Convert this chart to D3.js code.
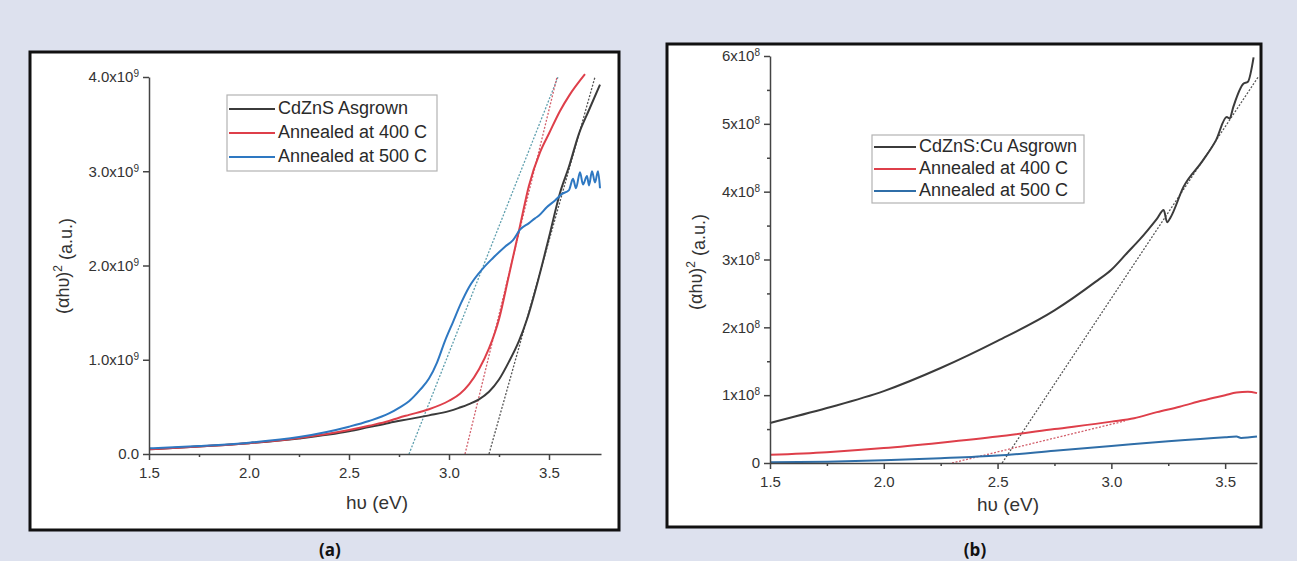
<!DOCTYPE html>
<html>
<head>
<meta charset="utf-8">
<script src="https://cdn.jsdelivr.net/npm/d3@7"></script>
<style>
  html, body { margin: 0; padding: 0; background: #dde1ee; }
  svg { display: block; font-family: 'Liberation Sans', Arial, sans-serif; }
</style>
</head>
<body>
<svg id="chart" width="1297" height="561"></svg>
<script>
// ============================================================================
//  Tauc plots (αhυ)² vs hυ — (a) CdZnS, (b) CdZnS:Cu
// ============================================================================

// ---- panel (a): hυ (eV), (αhυ)² in units of 1e9 ----
const asgrownA = [[1.5,0.05],[1.75,0.08],[2.0,0.115],[2.25,0.165],[2.5,0.24],[2.6,0.285],[2.7,0.33],
  [2.8,0.37],[2.9,0.41],[3.0,0.455],[3.05,0.49],[3.1,0.53],[3.15,0.58],[3.2,0.66],[3.25,0.79],[3.3,0.98],
  [3.35,1.2],[3.39,1.43],[3.45,1.88],[3.5,2.3],[3.555,2.77],[3.6,3.05],[3.65,3.4],[3.7,3.65],[3.755,3.92]];
const anneal400A = [[1.5,0.05],[1.75,0.08],[2.0,0.115],[2.25,0.17],[2.5,0.255],[2.6,0.3],[2.7,0.35],
  [2.75,0.385],[2.8,0.415],[2.9,0.475],[3.0,0.565],[3.055,0.64],[3.1,0.74],[3.15,0.9],[3.2,1.12],[3.25,1.43],
  [3.3,1.9],[3.355,2.42],[3.4,2.85],[3.455,3.2],[3.5,3.4],[3.555,3.64],[3.6,3.8],[3.68,4.03]];
const anneal500A = [[1.5,0.06],[1.75,0.085],[2.0,0.12],[2.25,0.18],[2.5,0.29],[2.6,0.35],[2.7,0.43],
  [2.75,0.49],[2.8,0.56],[2.855,0.68],[2.9,0.8],[2.94,0.97],[2.98,1.2],[3.02,1.4],[3.06,1.6],[3.1,1.77],
  [3.17,1.97],[3.22,2.08],[3.28,2.2],[3.32,2.27],[3.355,2.38],[3.4,2.45],[3.43,2.5],[3.45,2.53],[3.49,2.62],
  [3.53,2.69],[3.565,2.76],[3.6,2.8],[3.62,2.92],[3.635,2.82],[3.655,2.99],[3.67,2.86],[3.69,2.95],
  [3.7,2.85],[3.715,3.0],[3.73,2.88],[3.745,3.0],[3.755,2.82]];
const tangentsA = [[[2.80,0],[3.545,4.0]], [[3.08,0],[3.54,4.0]], [[3.2,0],[3.73,4.0]]];

// ---- panel (b): (αhυ)² in units of 1e8 ----
const asgrownB = [[1.5,0.59],[1.75,0.81],[2.0,1.06],[2.25,1.4],[2.5,1.8],[2.75,2.25],[2.93,2.67],
  [3.0,2.85],[3.07,3.1],[3.126,3.3],[3.2,3.6],[3.23,3.73],[3.245,3.55],[3.26,3.62],[3.317,4.07],
  [3.4,4.45],[3.46,4.76],[3.507,5.1],[3.52,5.08],[3.536,5.25],[3.58,5.59],[3.6,5.62],[3.625,5.98]];
const anneal400B = [[1.5,0.12],[1.75,0.16],[2.0,0.22],[2.25,0.3],[2.5,0.39],[2.75,0.5],[3.0,0.61],
  [3.1,0.66],[3.2,0.75],[3.3,0.83],[3.4,0.92],[3.5,1.0],[3.55,1.04],[3.6,1.05],[3.64,1.03]];
const anneal500B = [[1.5,0.01],[1.75,0.02],[2.0,0.04],[2.25,0.07],[2.5,0.11],[2.75,0.18],[3.0,0.25],
  [3.25,0.32],[3.5,0.38],[3.55,0.39],[3.57,0.37],[3.64,0.39]];
const tangentsB = [[[2.52,0],[3.645,5.69]], [[2.3,0],[3.06,0.62]]];

const legendA = ['CdZnS Asgrown', 'Annealed at 400 C', 'Annealed at 500 C'];
const legendB = ['CdZnS:Cu Asgrown', 'Annealed at 400 C', 'Annealed at 500 C'];
const xTicks = [1.5, 2.0, 2.5, 3.0, 3.5];
const xMinor = [1.75, 2.25, 2.75, 3.25];
const yTicksA = [0, 1, 2, 3, 4];
const yTicksB = [0, 1, 2, 3, 4, 5, 6];
const yMinorB = [0.5, 1.5, 2.5, 3.5, 4.5, 5.5];

const COL = { black: '#3b3b3b', red: '#de3f4a', blue: '#2e78c2', blueB: '#2f6ea8' };

const svg = d3.select('#chart');
svg.append('rect').attr('width', 1297).attr('height', 561).attr('fill', '#dde1ee');

function supLabel(sel, base, sup, supSize) {
  sel.text(null);
  sel.append('tspan').text(base);
  if (sup) sel.append('tspan').attr('dy', '-0.5em').style('font-size', supSize + 'px').text(sup);
}

function drawPanel(p) {
  const g = svg.append('g');
  g.append('rect').attr('x', p.frame[0]).attr('y', p.frame[1])
    .attr('width', p.frame[2]).attr('height', p.frame[3])
    .attr('fill', '#fff').attr('stroke', '#111').attr('stroke-width', 3);

  const x = d3.scaleLinear(p.xDomain, p.xRange);
  const y = d3.scaleLinear(p.yDomain, p.yRange);

  // tangents (dotted)
  p.tangents.forEach((t, i) => {
    g.append('path').datum(t).attr('fill', 'none').attr('stroke', p.tanColors[i])
      .attr('stroke-width', 1.3).attr('stroke-dasharray', '2,1.6')
      .attr('d', d3.line().x(d => x(d[0])).y(d => y(d[1])));
  });

  // curves
  const line = d3.line().x(d => x(d[0])).y(d => y(d[1])).curve(d3.curveMonotoneX);
  p.series.forEach(s => {
    g.append('path').datum(s.data).attr('fill', 'none').attr('stroke', s.color)
      .attr('stroke-width', 2).attr('stroke-linejoin', 'round').attr('d', line);
  });

  // axes
  const ax = g.append('g').attr('transform', `translate(0,${p.yRange[0]})`)
    .call(d3.axisBottom(x).tickValues(xTicks).tickSize(6).tickSizeOuter(0).tickPadding(7)
      .tickFormat(d3.format('.1f')));
  g.append('g').attr('transform', `translate(0,${p.yRange[0]})`)
    .call(d3.axisBottom(x).tickValues(xMinor).tickSize(3).tickFormat(''))
    .select('.domain').remove();
  const ay = g.append('g').attr('transform', `translate(${p.xRange[0]},0)`)
    .call(d3.axisLeft(y).tickValues(p.yTicks).tickSize(6).tickSizeOuter(0).tickPadding(4));
  if (p.yMinor) {
    g.append('g').attr('transform', `translate(${p.xRange[0]},0)`)
      .call(d3.axisLeft(y).tickValues(p.yMinor).tickSize(3).tickFormat(''))
      .select('.domain').remove();
  }
  g.selectAll('.domain, .tick line').attr('stroke', '#444').attr('stroke-width', 1.5);
  ax.selectAll('text').style('font-size', '15px').attr('fill', '#333');
  ay.selectAll('.tick text').style('font-size', '15px').attr('fill', '#333')
    .each(function (d) { supLabel(d3.select(this), p.yFmt(d), d === 0 ? null : p.exp, 10); });

  // axis titles
  g.append('text').attr('x', p.xTitle[0]).attr('y', p.xTitle[1]).attr('text-anchor', 'middle')
    .attr('dominant-baseline', 'middle').style('font-size', '19px').attr('fill', '#333').text('hυ (eV)');
  const yt = g.append('text').attr('transform', `translate(${p.yTitle[0]},${p.yTitle[1]}) rotate(-90)`)
    .attr('text-anchor', 'middle').attr('dominant-baseline', 'middle')
    .style('font-size', '18px').attr('fill', '#333');
  yt.append('tspan').text('(αhυ)');
  yt.append('tspan').attr('dy', '-0.45em').style('font-size', '12px').text('2');
  yt.append('tspan').attr('dy', '0.45em').text(' (a.u.)');

  // legend
  const L = p.legend;
  g.append('rect').attr('x', L.x).attr('y', L.y).attr('width', L.w).attr('height', L.h)
    .attr('fill', '#fff').attr('stroke', '#b3b3b3').attr('stroke-width', 1.2);
  p.series.forEach((s, i) => {
    const cy = L.rows[i];
    g.append('line').attr('x1', L.x + 2).attr('x2', L.x + L.sample).attr('y1', cy).attr('y2', cy)
      .attr('stroke', s.color).attr('stroke-width', 1.8);
    g.append('text').attr('x', L.x + L.sample + 3).attr('y', cy).attr('dominant-baseline', 'middle')
      .style('font-size', '18px').attr('fill', '#2a2a2a').text(L.names[i]);
  });

  // panel letter
  svg.append('text').attr('x', p.letter[0]).attr('y', p.letter[1]).attr('text-anchor', 'middle')
    .attr('dominant-baseline', 'middle').style('font-family', "'Open Sans', sans-serif")
    .style('font-weight', 700).style('font-size', '17px').attr('fill', '#111').text(p.letter[2]);
}

drawPanel({
  frame: [30, 52, 589, 478],
  xDomain: [1.5, 3.76], xRange: [149, 601],
  yDomain: [0, 4], yRange: [454, 77],
  yTicks: yTicksA, yFmt: d => d === 0 ? '0.0' : d.toFixed(1) + 'x10', exp: '9',
  series: [
    { data: asgrownA, color: COL.black },
    { data: anneal400A, color: COL.red },
    { data: anneal500A, color: COL.blue }
  ],
  tangents: tangentsA, tanColors: ['#5f9fae', '#d2606c', '#555'],
  xTitle: [377, 504], yTitle: [64, 266],
  legend: { x: 227, y: 95, w: 210, h: 76, sample: 48, rows: [109, 133, 157], names: legendA },
  letter: [330, 551, '(a)']
});

drawPanel({
  frame: [667, 44, 594, 483],
  xDomain: [1.5, 3.64], xRange: [770, 1257],
  yDomain: [0, 6], yRange: [463, 56],
  yTicks: yTicksB, yMinor: yMinorB, yFmt: d => d === 0 ? '0' : d + 'x10', exp: '8',
  series: [
    { data: asgrownB, color: COL.black },
    { data: anneal400B, color: COL.red },
    { data: anneal500B, color: COL.blueB }
  ],
  tangents: tangentsB, tanColors: ['#555', '#d2606c'],
  xTitle: [1008, 506], yTitle: [697, 262],
  legend: { x: 872, y: 135, w: 212, h: 68, sample: 44, rows: [147, 169, 191], names: legendB },
  letter: [975, 551, '(b)']
});
</script>
</body>
</html>
